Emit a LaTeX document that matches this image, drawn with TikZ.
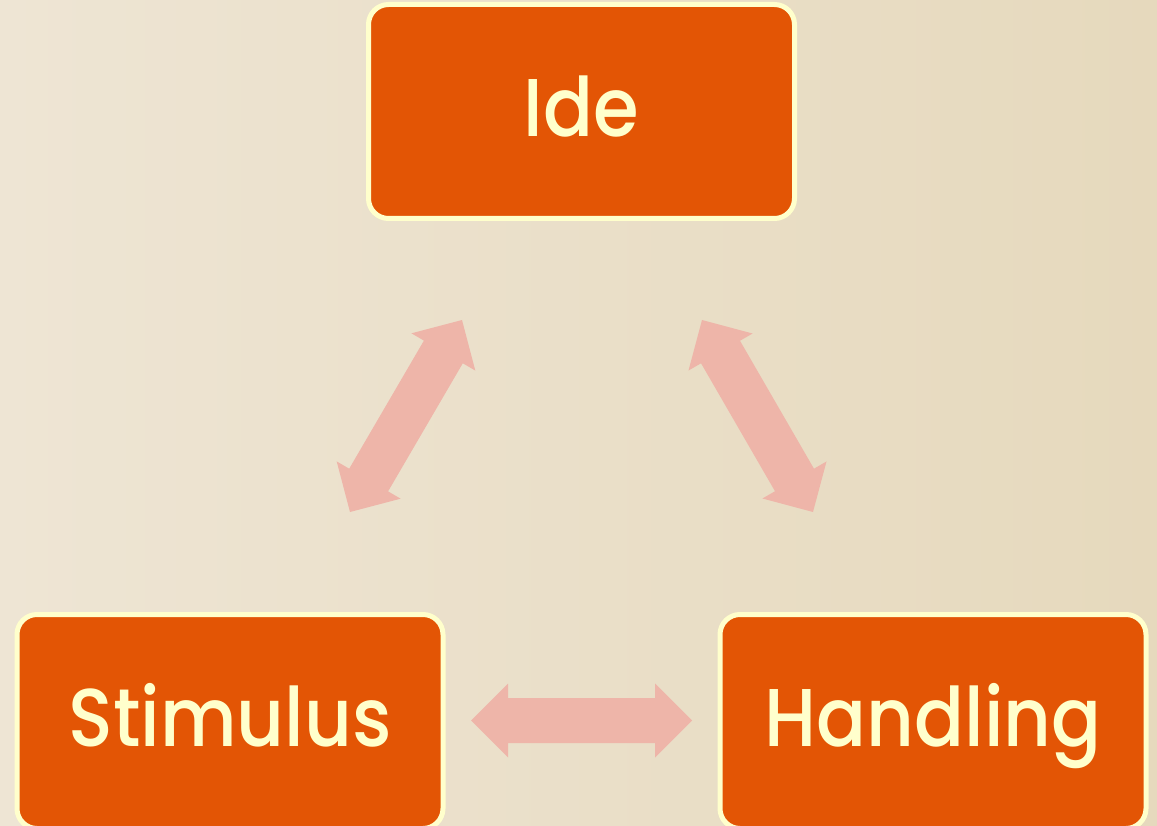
\documentclass[tikz,border=0pt]{standalone}
\usepackage{fontspec}
\setmainfont{Poppins}
\newfontfamily\boxfont{Poppins}[UprightFont=* Medium]
\usetikzlibrary{calc}
\definecolor{boxfill}{RGB}{227,85,5}
\definecolor{boxline}{RGB}{255,255,204}
\definecolor{arrowfill}{RGB}{238,181,169}
\definecolor{bgleft}{RGB}{238,229,212}
\definecolor{bgright}{RGB}{230,217,189}
\newcommand\dblarrow[2]{%
  \path ($(#1)!37pt!(#2)$) coordinate (p1) ($(#2)!37pt!(#1)$) coordinate (p2);
  \fill[blockarrow] (#1) -- ($(p1)!37pt!90:(#2)$) -- ($(p1)!22.5pt!90:(#2)$)
    -- ($(p2)!22.5pt!-90:(#1)$) -- ($(p2)!37pt!-90:(#1)$) -- (#2)
    -- ($(p2)!37pt!90:(#1)$) -- ($(p2)!22.5pt!90:(#1)$)
    -- ($(p1)!22.5pt!-90:(#2)$) -- ($(p1)!37pt!-90:(#2)$) -- cycle;}
\newcommand\boxtext[1]{\scalebox{0.9}[1]{#1}}
\begin{document}
\begin{tikzpicture}[x=1pt,y=-1pt,
  box/.style={rectangle, rounded corners=20pt, draw=boxline, line width=5pt,
    fill=boxfill, text=boxline, minimum width=426pt, minimum height=214pt,
    inner sep=0pt, font=\boxfont\fontsize{82}{90}\selectfont, text height=64pt, text depth=14pt},
  blockarrow/.style={fill=arrowfill, draw=none}]
\shade[left color=bgleft, right color=bgright] (0,0) rectangle (1157,826);
\useasboundingbox (0,0) rectangle (1157,826);
\node[box] (ide) at (581.5,111.5) {\boxtext{Ide}};
\node[box] (stim) at (230,721.5) {\boxtext{Stimulus}};
\node[box] (hand) at (933,721.5) {\boxtext{Handling}};
\coordinate (la) at (462,320);
\coordinate (lb) at (350,512);
\coordinate (ra) at (702,320);
\coordinate (rb) at (813,512);
\coordinate (ha) at (471,720.5);
\coordinate (hb) at (692,720.5);
\dblarrow{la}{lb}
\dblarrow{ra}{rb}
\dblarrow{ha}{hb}
\end{tikzpicture}
\end{document}
